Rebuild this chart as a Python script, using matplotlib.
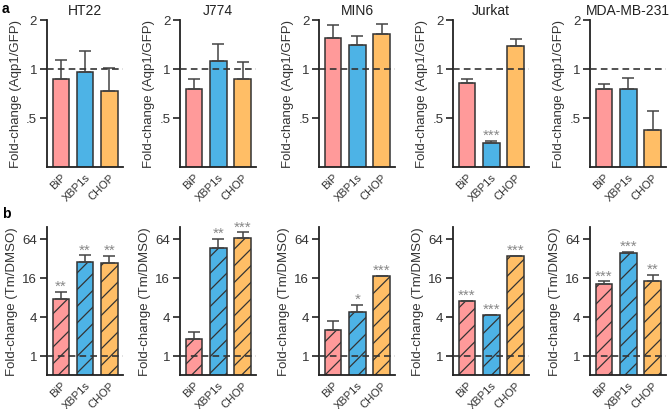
import matplotlib
matplotlib.use("Agg")
import matplotlib.pyplot as plt
import numpy as np

plt.rcParams['font.family'] = ['Liberation Sans', 'DejaVu Sans']
plt.rcParams['hatch.linewidth'] = 0.9
plt.rcParams['hatch.color'] = '#333333'

cells = ["HT22", "J774", "MIN6", "Jurkat", "MDA-MB-231"]
genes = ["BiP", "XBP1s", "CHOP"]
colors = ["#FF9A9A", "#4DB3E6", "#FFBE66"]

# panel a: Fold-change (Aqp1/GFP)
a_vals = [[0.86, 0.96, 0.73],
          [0.755, 1.12, 0.87],
          [1.55, 1.39, 1.63],
          [0.82, 0.35, 1.38],
          [0.755, 0.755, 0.42]]
a_err = [[1.13, 1.29, 1.01],
         [0.87, 1.41, 1.10],
         [1.86, 1.60, 1.88],
         [0.86, 0.36, 1.52],
         [0.81, 0.88, 0.55]]
a_stars = [["", "", ""], ["", "", ""], ["", "", ""], ["", "***", ""], ["", "", ""]]

# panel b: Fold-change (Tm/DMSO)
b_vals = [[7.5, 27.7, 27.1],
          [1.82, 45.8, 65.5],
          [2.48, 4.73, 16.8],
          [6.85, 4.3, 34.4],
          [12.9, 37.8, 14.2]]
b_err = [[9.5, 35.2, 34.4],
         [2.31, 63.0, 80.0],
         [3.42, 6.07, 16.8],
         [7.0, 4.3, 34.4],
         [14.0, 39.7, 17.6]]
b_stars = [["**", "**", "**"],
           ["", "**", "***"],
           ["", "*", "***"],
           ["***", "***", "***"],
           ["***", "***", "**"]]

W, H = 669, 410
fig = plt.figure(figsize=(W / 100, H / 100), dpi=100)
lefts = [46.7, 180, 319, 453, 590]
aw = 76

def style(ax):
    for s in ["top", "right"]:
        ax.spines[s].set_visible(False)
    for s in ["left", "bottom"]:
        ax.spines[s].set_linewidth(1.3)
        ax.spines[s].set_color("#222222")
    ax.tick_params(axis="y", length=5, width=1.2, labelsize=9.5, color="#222222", labelcolor="#333333", pad=2)
    ax.tick_params(axis="x", length=0, labelsize=8, labelcolor="#333333", pad=3)

def stars(ax, xs, tops, labels):
    for xx, t, s in zip(xs, tops, labels):
        if s:
            ax.annotate(s, xy=(xx, t), xytext=(0, 1.5), textcoords="offset points",
                        ha="center", va="baseline", fontsize=11, color="#888888")

x = np.arange(len(genes))
for i, cell in enumerate(cells):
    # top row
    ax = fig.add_axes([lefts[i] / W, 1 - 168 / H, aw / W, (168 - 20.7) / H])
    ax.set_yscale("log", base=2)
    ax.set_ylim(0.25, 2)
    ax.set_xlim(-0.58, 2.55)
    vals = np.array(a_vals[i]); errs = np.array(a_err[i]) - vals
    ax.bar(x, vals, width=0.68, color=colors, edgecolor="#333333", linewidth=1.1, zorder=2)
    ax.errorbar(x, vals, yerr=[np.zeros(3), errs], fmt="none", ecolor="#444444",
                elinewidth=1.1, capsize=4, capthick=1.1, zorder=3)
    ax.axhline(1, color="#333333", linestyle=(0, (4, 2.5)), linewidth=1.2, zorder=4)
    ax.set_yticks([0.5, 1, 2])
    ax.set_yticklabels([".5", "1", "2"])
    ax.set_xticks(x)
    ax.set_xticklabels(genes, rotation=45, ha="right", rotation_mode="anchor")
    ax.set_title(cell, fontsize=10, color="#222222", pad=4)
    ax.set_ylabel("Fold-change (Aqp1/GFP)", fontsize=9.5, color="#333333", labelpad=3)
    stars(ax, x, a_err[i], a_stars[i])
    style(ax)

    # bottom row
    ax = fig.add_axes([lefts[i] / W, 1 - 376 / H, aw / W, (376 - 228) / H])
    ax.set_yscale("log", base=2)
    ax.set_ylim(0.5, 97)
    ax.set_xlim(-0.58, 2.55)
    vals = np.array(b_vals[i]); errs = np.array(b_err[i]) - vals
    ax.bar(x, vals, width=0.68, color=colors, edgecolor="#333333", linewidth=1.1,
           hatch="//", zorder=2)
    ax.errorbar(x, vals, yerr=[np.zeros(3), errs], fmt="none", ecolor="#444444",
                elinewidth=1.1, capsize=4, capthick=1.1, zorder=3)
    ax.axhline(1, color="#333333", linestyle=(0, (4, 2.5)), linewidth=1.2, zorder=4)
    ax.set_yticks([1, 4, 16, 64])
    ax.set_yticklabels(["1", "4", "16", "64"])
    ax.set_xticks(x)
    ax.set_xticklabels(genes, rotation=45, ha="right", rotation_mode="anchor")
    ax.set_ylabel("Fold-change (Tm/DMSO)", fontsize=9.5, color="#333333", labelpad=3)
    stars(ax, x, b_err[i], b_stars[i])
    style(ax)

fig.text(2 / W, 1 - 9 / H, "a", fontsize=10, fontweight="bold", va="center")
fig.text(2 / W, 1 - 214 / H, "b", fontsize=10, fontweight="bold", va="center")

fig.savefig("out.png", dpi=100)
